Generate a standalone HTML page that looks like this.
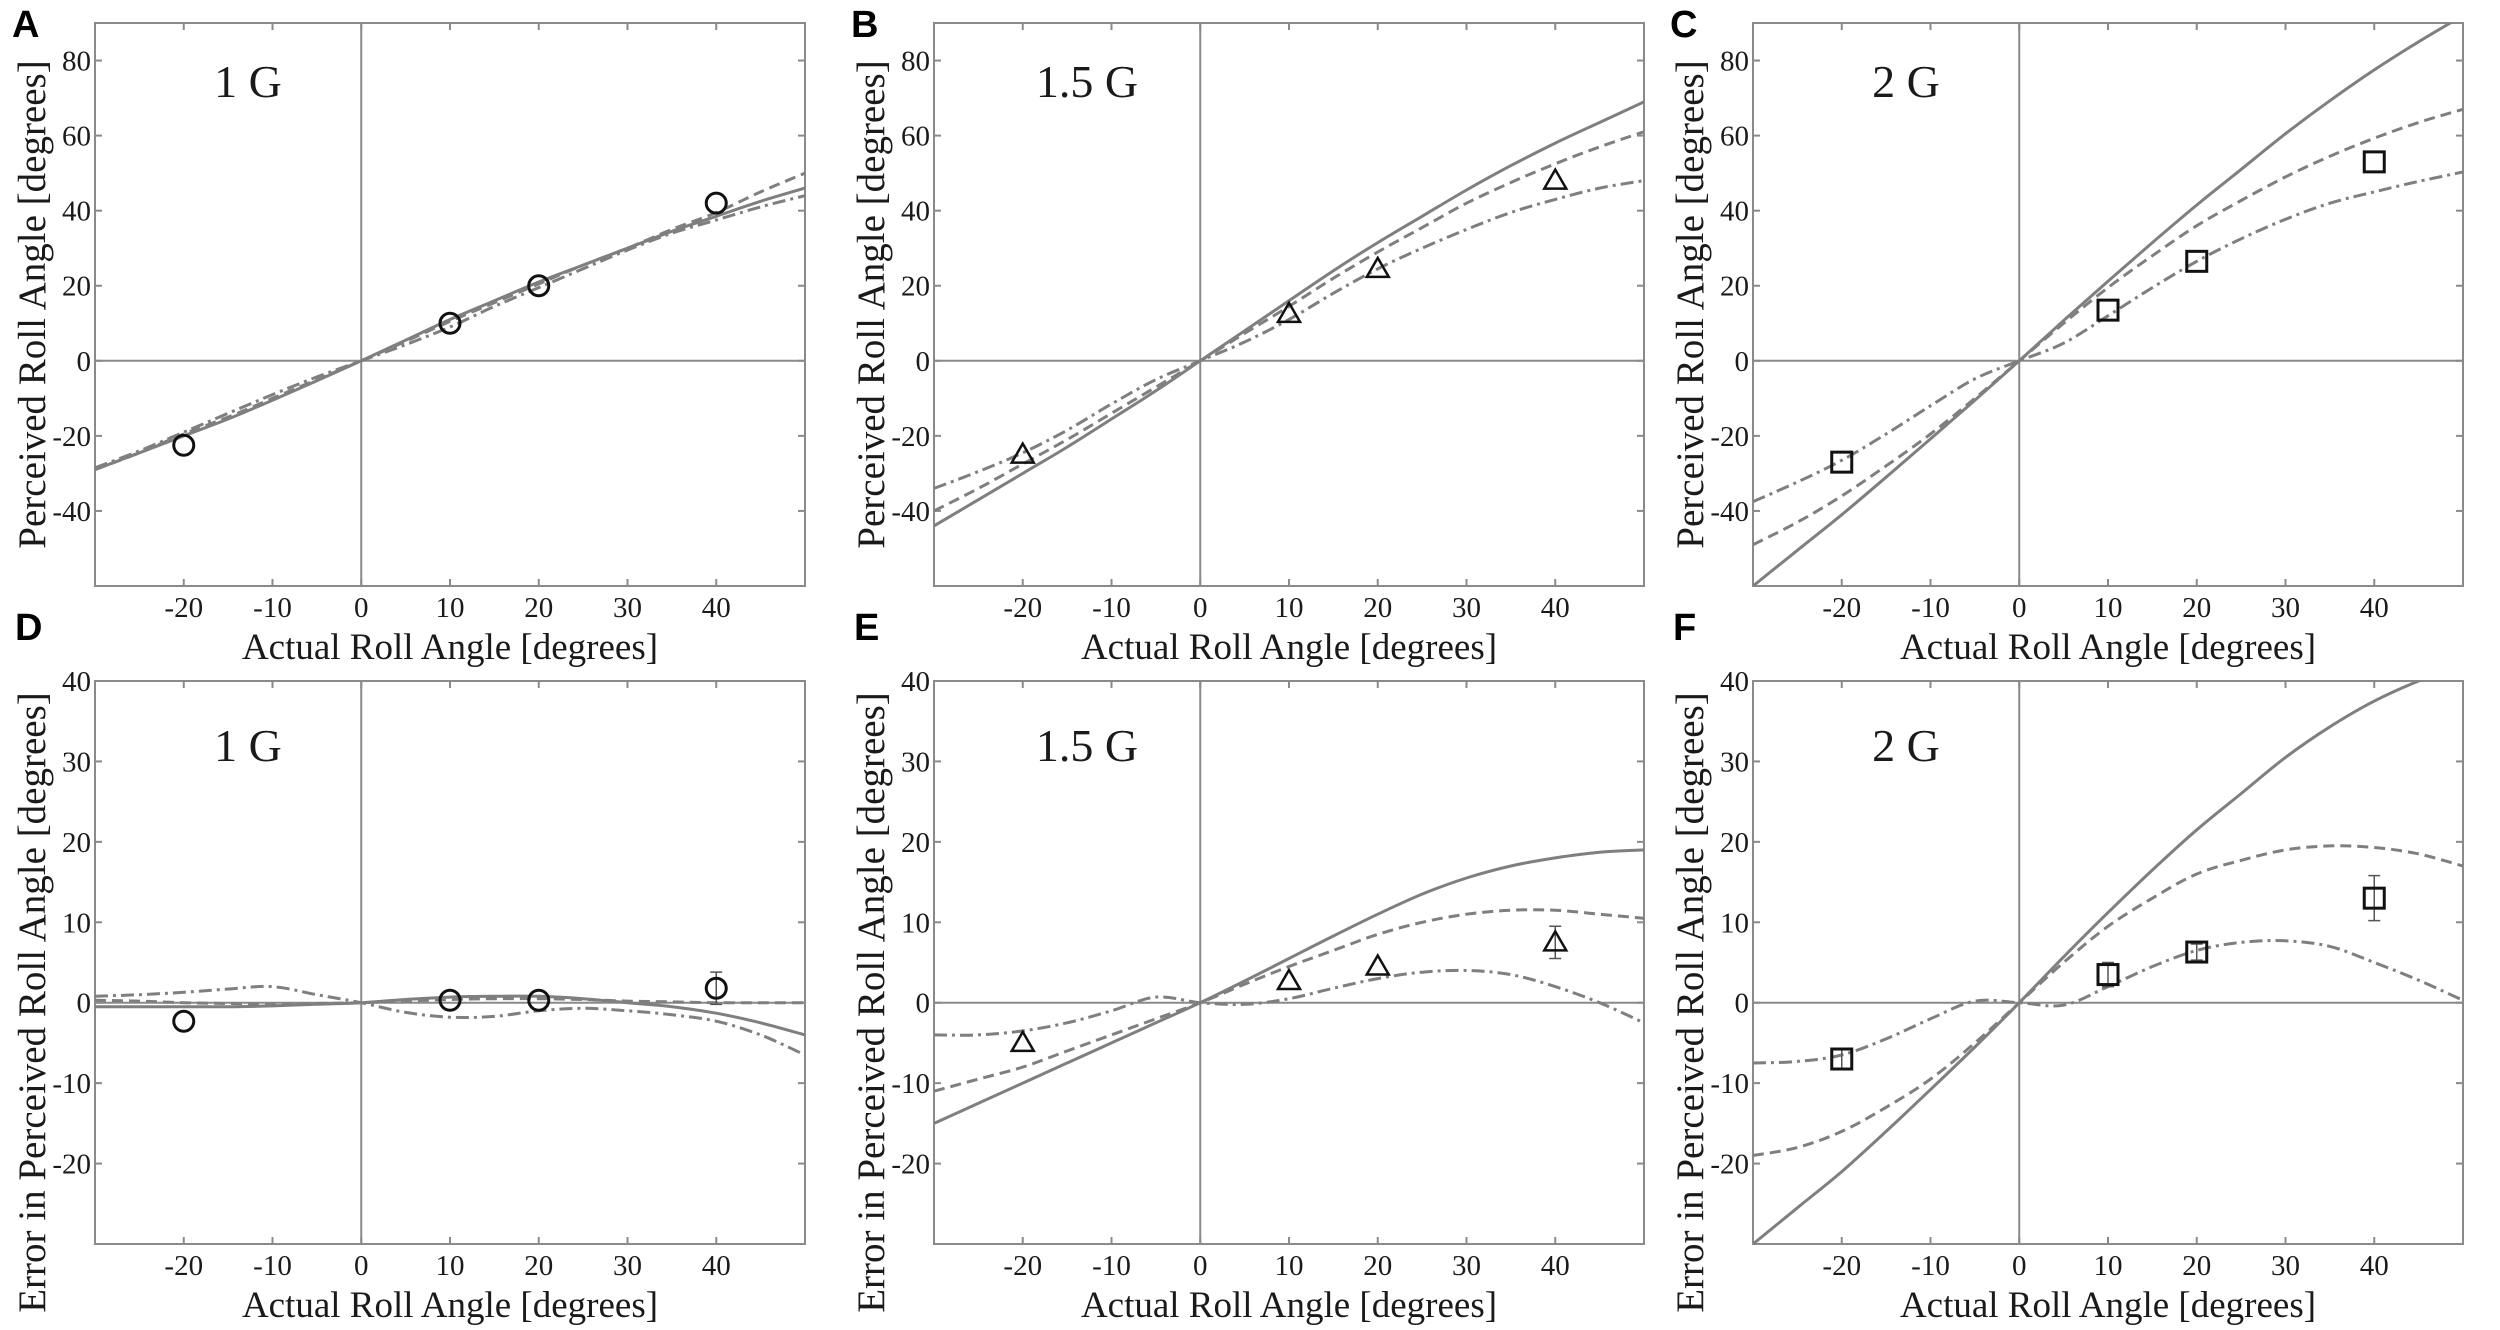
<!DOCTYPE html>
<html><head><meta charset="utf-8"><style>
html,body{margin:0;padding:0;background:#fff}
svg{display:block}
text{font-family:"Liberation Serif",serif;fill:#1a1a1a}
.pl{font-family:"Liberation Sans",sans-serif;font-weight:bold;fill:#000}
</style></head><body>
<svg id="fig" width="2500" height="1330" viewBox="0 0 2500 1330" xmlns="http://www.w3.org/2000/svg"></svg>
<script>
const xs = [-30,-25,-20,-15,-10,-5,0,5,10,15,20,25,30,35,40,45,50];
const xTickLabels = [-20,-10,0,10,20,30,40];
const topYTicks = [-40,-20,0,20,40,60,80];
const botYTicks = [-20,-10,0,10,20,30,40];
const pointX = [-20,10,20,40];

const A_solid  = [-29,-24.5,-20,-15.5,-10.5,-5.3,0,5.5,11,16,21,25.5,30,34.5,38.5,42.5,46];
const A_dashed = [-29,-24.5,-19.5,-15,-10,-5,0,5.2,10.5,15.5,20.5,25.5,30,35,39.5,45,50];
const A_dashdot= [-28.5,-24,-19,-14,-9,-4.3,0,4.3,9,14.5,19.5,24.5,29.5,34,37.5,41,44];
const A_points = [-22.5,10,20,42];

const B_solid  = [-44,-37,-30,-23,-15.5,-8,0,8,16,24,31.5,38.5,45.5,52,58,63.5,69];
const B_dashed = [-40,-34,-27.5,-21,-14,-7,0,7.3,14.5,22,29,35.5,42,47.5,52.5,57,61];
const B_dashdot= [-34,-29.5,-24.5,-18.5,-11.5,-5,0,5,11,18,24.5,30,35,39.5,43,46,48];
const B_points = [-25,12.5,24.5,48];

const C_solid  = [-60,-50.5,-41,-31,-20.8,-10.5,0,10.7,21.2,31.5,41.5,51,60.5,69.3,77.5,85,92];
const C_dashed = [-49,-43,-36,-28,-19.5,-10,0,10,19.5,28,36,42.7,49,54.5,59.3,63.5,67];
const C_dashdot= [-37.5,-32.3,-26.5,-19.5,-12,-4.8,0,4.7,12,19.5,26.5,32.5,37.7,42,45,47.8,50.3];
const C_points = [-27,13.5,26.5,53];

const D_solid  = [-0.5,-0.5,-0.5,-0.5,-0.4,-0.2,0,0.4,0.7,0.8,0.8,0.5,0,-0.5,-1.3,-2.5,-4];
const D_dashed = [0.3,0.2,0,-0.1,-0.2,-0.1,0,0.2,0.4,0.5,0.5,0.4,0.2,0.1,0,0,0];
const D_dashdot= [0.8,1,1.3,1.7,2,1,0,-1.2,-1.8,-1.7,-1,-0.7,-1,-1.5,-2.3,-4,-6.5];
const D_points = [-2.3,0.3,0.3,1.8];
const D_err    = [0,0,0,2];

const E_solid  = [-15,-12.5,-10,-7.5,-5,-2.5,0,2.7,5.5,8.3,11,13.5,15.5,17,18,18.7,19];
const E_dashed = [-11,-9.5,-8,-6,-4,-2,0,2.3,4.5,6.5,8.5,10,11,11.5,11.5,11,10.5];
const E_dashdot= [-4,-4,-3.5,-2.5,-1,0.7,0,-0.2,0.5,1.8,3,3.8,4,3.5,2,0,-2.5];
const E_points = [-5,2.7,4.5,7.5];
const E_err    = [0,0,0,2];

const F_solid  = [-30,-25.5,-21,-16,-10.8,-5.5,0,5.7,11.2,16.5,21.5,26,30.5,34.3,37.5,40,42];
const F_dashed = [-19,-18,-16,-13,-9.5,-5,0,5,9.5,13,16,17.7,19,19.5,19.3,18.5,17];
const F_dashdot= [-7.5,-7.3,-6.5,-4.5,-2,0.2,0,-0.3,2,4.5,6.5,7.5,7.7,7,5,2.8,0.3];
const F_points = [-7,3.5,6.3,13];
const F_err    = [1.2,1.5,1,2.8];

const NS="http://www.w3.org/2000/svg";
const svg=document.getElementById('fig');
function mk(tag,attrs,parent){const e=document.createElementNS(NS,tag);for(const k in attrs)e.setAttribute(k,attrs[k]);(parent||svg).appendChild(e);return e;}

const panels=[
 {id:'a',letter:'A',left:95,top:23,ymin:-60,ymax:90,yt:topYTicks,g:'1 G',s:A_solid,d:A_dashed,dd:A_dashdot,p:A_points,e:null,m:'circle',ylab:'Perceived Roll Angle [degrees]'},
 {id:'b',letter:'B',left:934,top:23,ymin:-60,ymax:90,yt:topYTicks,g:'1.5 G',s:B_solid,d:B_dashed,dd:B_dashdot,p:B_points,e:null,m:'triangle',ylab:'Perceived Roll Angle [degrees]'},
 {id:'c',letter:'C',left:1753,top:23,ymin:-60,ymax:90,yt:topYTicks,g:'2 G',s:C_solid,d:C_dashed,dd:C_dashdot,p:C_points,e:null,m:'square',ylab:'Perceived Roll Angle [degrees]'},
 {id:'d',letter:'D',left:95,top:681,ymin:-30,ymax:40,yt:botYTicks,g:'1 G',s:D_solid,d:D_dashed,dd:D_dashdot,p:D_points,e:D_err,m:'circle',ylab:'Error in Perceived Roll Angle [degrees]'},
 {id:'e',letter:'E',left:934,top:681,ymin:-30,ymax:40,yt:botYTicks,g:'1.5 G',s:E_solid,d:E_dashed,dd:E_dashdot,p:E_points,e:E_err,m:'triangle',ylab:'Error in Perceived Roll Angle [degrees]'},
 {id:'f',letter:'F',left:1753,top:681,ymin:-30,ymax:40,yt:botYTicks,g:'2 G',s:F_solid,d:F_dashed,dd:F_dashdot,p:F_points,e:F_err,m:'square',ylab:'Error in Perceived Roll Angle [degrees]'}
];
const W=710,H=563,XMIN=-30,XMAX=50;

function smoothPath(pts){
  let d='M'+pts[0][0].toFixed(1)+','+pts[0][1].toFixed(1);
  for(let i=0;i<pts.length-1;i++){
    const p0=pts[Math.max(0,i-1)],p1=pts[i],p2=pts[i+1],p3=pts[Math.min(pts.length-1,i+2)];
    const c1=[p1[0]+(p2[0]-p0[0])/6,p1[1]+(p2[1]-p0[1])/6];
    const c2=[p2[0]-(p3[0]-p1[0])/6,p2[1]-(p3[1]-p1[1])/6];
    d+=' C'+c1.map(v=>v.toFixed(1)).join(',')+' '+c2.map(v=>v.toFixed(1)).join(',')+' '+p2[0].toFixed(1)+','+p2[1].toFixed(1);
  }
  return d;
}

panels.forEach(P=>{
  const X=v=>P.left+(v-XMIN)/(XMAX-XMIN)*W;
  const Y=v=>P.top+(P.ymax-v)/(P.ymax-P.ymin)*H;
  const isTop=P.top<100;
  const g=mk('g',{});
  
  
  const cp=mk('clipPath',{id:'clip-'+P.id},g);
  mk('rect',{x:P.left,y:P.top,width:W,height:H},cp);

  const lt=mk('text',{x:P.left-(isTop?83:80),y:isTop?37:640,'font-size':38,'class':'pl'},g);
  lt.textContent=P.letter;
  
  

  const frame=mk('rect',{x:P.left,y:P.top,width:W,height:H,fill:'none',stroke:'#8a8a8a','stroke-width':2},g);
  
  

  const za=mk('line',{x1:P.left,x2:P.left+W,y1:Y(0),y2:Y(0),stroke:'#8a8a8a','stroke-width':2},g);
  
  
  const zv=mk('line',{x1:X(0),x2:X(0),y1:P.top,y2:P.top+H,stroke:'#8a8a8a','stroke-width':2},g);
  
  

  for(let v=-20;v<=40;v+=10){
    mk('line',{x1:X(v),x2:X(v),y1:P.top+H,y2:P.top+H-7,stroke:'#8a8a8a','stroke-width':2},g);
    mk('line',{x1:X(v),x2:X(v),y1:P.top,y2:P.top+7,stroke:'#8a8a8a','stroke-width':2},g);
  }
  xTickLabels.forEach(v=>{
    const t=mk('text',{x:X(v),y:P.top+H+31,'font-size':29,'text-anchor':'middle'},g);
    t.textContent=v;
    
    
  });
  P.yt.forEach(v=>{
    mk('line',{x1:P.left,x2:P.left+7,y1:Y(v),y2:Y(v),stroke:'#8a8a8a','stroke-width':2},g);
    mk('line',{x1:P.left+W,x2:P.left+W-7,y1:Y(v),y2:Y(v),stroke:'#8a8a8a','stroke-width':2},g);
    const t=mk('text',{x:P.left-4,y:Y(v)+10,'font-size':29,'text-anchor':'end'},g);
    t.textContent=v;
    
    
  });
  const xt=mk('text',{x:P.left+W/2,y:P.top+H+73,'font-size':37,'text-anchor':'middle'},g);
  xt.textContent='Actual Roll Angle [degrees]';
  
  
  const ycy=isTop?(P.top+H/2):(P.top+H/2+40);
  const yt=mk('text',{x:0,y:0,'font-size':39,'text-anchor':'middle',transform:'translate('+(P.left-50)+','+ycy+') rotate(-90)'},g);
  yt.textContent=P.ylab;
  
  

  const gl=mk('text',{x:P.left+153,y:P.top+(isTop?74:80),'font-size':46,'text-anchor':'middle'},g);
  gl.textContent=P.g;
  
  

  const series=[['solid',P.s,null],['dashed',P.d,'11 6'],['dashdot',P.dd,'13 5 3 5']];
  series.forEach(([nm,arr,dash])=>{
    const pts=xs.map((x,i)=>[X(x),Y(arr[i])]);
    const a={d:smoothPath(pts),fill:'none',stroke:'#7f7f7f','stroke-width':3,'clip-path':'url(#clip-'+P.id+')'};
    if(dash)a['stroke-dasharray']=dash;
    const path=mk('path',a,g);
    
    
  });

  pointX.forEach((x,i)=>{
    const cx=X(x),cy=Y(P.p[i]);
    if(P.e&&P.e[i]>0){
      const e1=Y(P.p[i]+P.e[i]),e2=Y(P.p[i]-P.e[i]);
      const eb=mk('path',{d:`M${cx},${e1}V${e2}M${cx-6},${e1}H${cx+6}M${cx-6},${e2}H${cx+6}`,stroke:'#555','stroke-width':1.5,fill:'none'},g);
      
      
    }
    let m;
    if(P.m==='circle') m=mk('circle',{cx:cx,cy:cy,r:10,fill:'none',stroke:'#111','stroke-width':3},g);
    else if(P.m==='triangle') m=mk('polygon',{points:`${cx},${cy-11} ${cx-11},${cy+8} ${cx+11},${cy+8}`,fill:'none',stroke:'#111','stroke-width':2.5},g);
    else m=mk('rect',{x:cx-10,y:cy-10,width:20,height:20,fill:'none',stroke:'#111','stroke-width':3},g);
    
    
  });
});
</script>
</body></html>
